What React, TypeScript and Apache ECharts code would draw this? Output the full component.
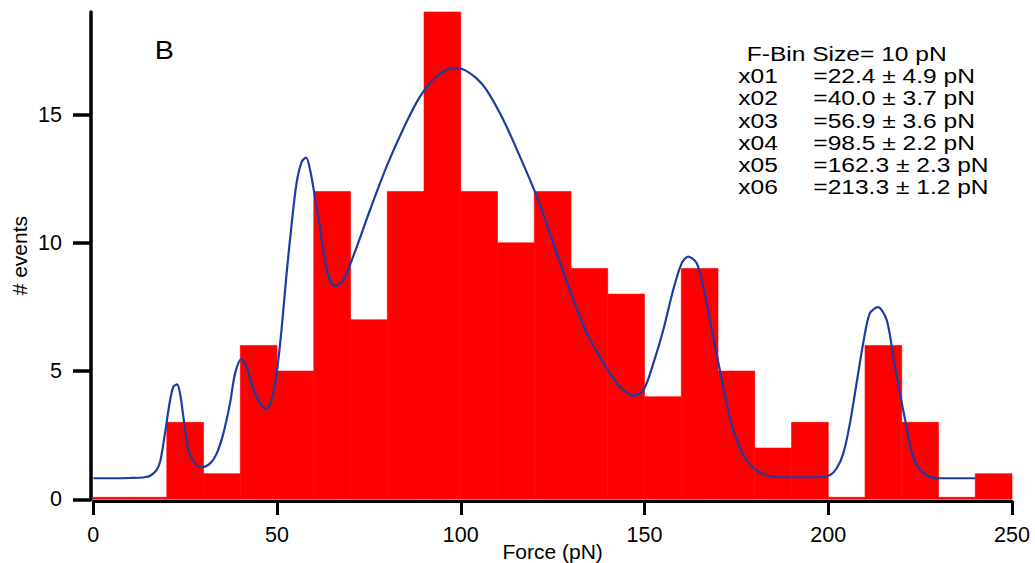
import { useEffect, useRef } from "react";
import * as echarts from "echarts";

// Histogram of rupture forces, 10 pN bins
const binSize = 10;
const binStart = [0, 10, 20, 30, 40, 50, 60, 70, 80, 90, 100, 110, 120, 130, 140, 150, 160, 170, 180, 190, 200, 210, 220, 230, 240];
const binCount = [0, 0, 3, 1, 6, 5, 12, 7, 12, 19, 12, 10, 12, 9, 8, 4, 9, 5, 2, 3, 0, 6, 3, 0, 1];

// Multi-peak fit curve, sampled points
const fitForce = [
  0, 5, 10, 14, 15.5, 17.2, 18.2, 19.5, 20.9, 21.8, 22.8, 23.6, 24.5, 25.4, 26.3, 28.1, 29.5, 31.8, 33.6, 35.4,
  37.2, 38.6, 40.3, 41.7, 43.5, 45.4, 47.0, 48.5, 49.9, 51.3, 52.6, 54.0, 55.3, 56.7, 57.9, 59.0, 60.3, 61.7, 63.0,
  64.4, 65.8, 68.0, 70.7, 75.3, 79.8, 84.4, 88.9, 93.4, 98.0, 100.7, 104.3, 107.0, 111.6, 116.1, 120.7, 125.2,
  129.7, 134.3, 138.5, 140.6, 143.3, 146.9, 149.7, 152.4, 155.1, 157.8, 160.1, 161.9, 164.2, 166.0, 167.8, 169.6,
  171.4, 173.2, 175.1, 177.8, 181.4, 186.9, 197.7, 200.5, 202.3, 204.1, 205.9, 207.7, 209.5, 211.3, 213.5, 215.9,
  217.7, 219.5, 221.3, 223.1, 225.9, 229.5, 240,
];
const fitCount = [
  0.82, 0.82, 0.83, 0.86, 0.92, 1.14, 1.47, 2.57, 3.87, 4.39, 4.48, 4.13, 3.22, 2.31, 1.73, 1.34, 1.25, 1.4, 1.79, 2.57,
  3.74, 4.91, 5.47, 5.17, 4.33, 3.74, 3.52, 3.87, 4.91, 6.73, 8.81, 10.76, 12.32, 13.16, 13.32, 12.84, 11.8, 10.6, 9.33,
  8.55, 8.32, 8.55, 9.46, 11.28, 12.97, 14.46, 15.7, 16.48, 16.8, 16.76, 16.41, 15.96, 14.79, 13.36, 11.8, 9.98,
  8.16, 6.47, 5.4, 4.91, 4.39, 4.04, 4.26, 5.3, 6.6, 8.16, 9.2, 9.46, 9.2, 8.29, 6.99, 5.69,
  4.39, 3.22, 2.31, 1.53, 1.04, 0.86, 0.86, 0.95, 1.21, 1.79, 2.96, 4.52, 6.08, 7.25, 7.49, 6.99,
  5.56, 4.13, 2.83, 1.66, 1.01, 0.82, 0.82,
];

const yTicks = [0, 5, 10, 15];
const panelLetter = "B";
const binLabel = "F-Bin Size= 10 pN";
const peakNames = ["x01", "x02", "x03", "x04", "x05", "x06"];
const peakValues = [
  "=22.4 ± 4.9 pN",
  "=40.0 ± 3.7 pN",
  "=56.9 ± 3.6 pN",
  "=98.5 ± 2.2 pN",
  "=162.3 ± 2.3 pN",
  "=213.3 ± 1.2 pN",
];

const FONT = "'Liberation Sans', Arial, Helvetica, sans-serif";

export default function App() {
  const ref = useRef<HTMLDivElement>(null);

  useEffect(() => {
    if (!ref.current) return;
    const chart = echarts.init(ref.current, null, { renderer: "svg" });

    const bars = binStart.map((s, i) => [s, s + binSize, binCount[i]]);
    const fit = fitForce.map((f, i) => [f, fitCount[i]]);

    const textStyle = (size: number) => ({
      fill: "#000",
      fontSize: size,
      fontFamily: FONT,
      textVerticalAlign: "middle",
    });

    const stretch = 1.26;
    const lineY0 = 54.7;
    const lineStep = 22.1;
    const graphic: any[] = [
      {
        type: "text",
        x: 154.7,
        y: 50.8,
        scaleX: 1.15,
        style: { ...textStyle(25), text: panelLetter },
      },
      {
        type: "text",
        x: 746.7,
        y: lineY0,
        scaleX: stretch,
        style: { ...textStyle(19.5), text: binLabel },
      },
    ];
    peakNames.forEach((n, i) => {
      graphic.push({
        type: "text",
        x: 738.3,
        y: lineY0 + lineStep * (i + 1),
        scaleX: stretch,
        style: { ...textStyle(19.5), text: n },
      });
      graphic.push({
        type: "text",
        x: 813.3,
        y: lineY0 + lineStep * (i + 1),
        scaleX: stretch,
        style: { ...textStyle(19.5), text: peakValues[i] },
      });
    });

    chart.setOption({
      animation: false,
      backgroundColor: "#fff",
      textStyle: { fontFamily: FONT },
      grid: {
        left: 93.3,
        right: 23,
        top: 12,
        bottom: 63.7,
        containLabel: false,
        outerBoundsMode: "none",
      },
      xAxis: {
        type: "value",
        min: 0,
        max: 250,
        interval: 50,
        offset: 1.7,
        name: "Force (pN)",
        nameLocation: "middle",
        nameGap: 40,
        nameMoveOverlap: false,
        nameTextStyle: { fontSize: 21, color: "#000", fontFamily: FONT },
        splitLine: { show: false },
        axisLine: { show: true, onZero: false, lineStyle: { color: "#000", width: 3 } },
        axisTick: { show: true, length: 14, lineStyle: { color: "#000", width: 3 } },
        axisLabel: { fontSize: 21.5, color: "#000", margin: 23, fontFamily: FONT },
      },
      yAxis: {
        type: "value",
        min: 0,
        max: 19,
        offset: 2.3,
        name: "# events",
        nameLocation: "middle",
        nameGap: 61,
        nameMoveOverlap: false,
        nameTextStyle: { fontSize: 21, color: "#000", fontFamily: FONT },
        splitLine: { show: false },
        axisLine: { show: true, onZero: false, lineStyle: { color: "#000", width: 3.5 } },
        axisTick: { show: true, length: 18, customValues: yTicks, lineStyle: { color: "#000", width: 3.5 } },
        axisLabel: { fontSize: 21.5, color: "#000", margin: 29, customValues: yTicks, fontFamily: FONT },
      },
      graphic,
      series: [
        {
          type: "custom",
          data: bars,
          encode: { x: [0, 1], y: 2 },
          z: 2,
          renderItem: (_params: any, api: any) => {
            const x0 = api.value(0);
            const x1 = api.value(1);
            const c = api.value(2);
            const top = api.coord([x0, c]);
            const base = api.coord([x1, 0]);
            let h = base[1] - top[1];
            if (h < 2) h = 2;
            return {
              type: "rect",
              shape: { x: top[0], y: base[1] - h, width: base[0] - top[0], height: h },
              style: { fill: "#ff0000", stroke: "#ff0000", lineWidth: 0.6 },
            };
          },
        },
        {
          type: "line",
          data: fit,
          z: 3,
          showSymbol: false,
          smooth: 0.3,
          lineStyle: { color: "#1c3ca4", width: 2.2 },
        },
      ],
    });

    return () => chart.dispose();
  }, []);

  return (
    <div
      ref={ref}
      style={{ position: "absolute", left: 0, top: 0, width: 1035, height: 563 }}
    />
  );
}
